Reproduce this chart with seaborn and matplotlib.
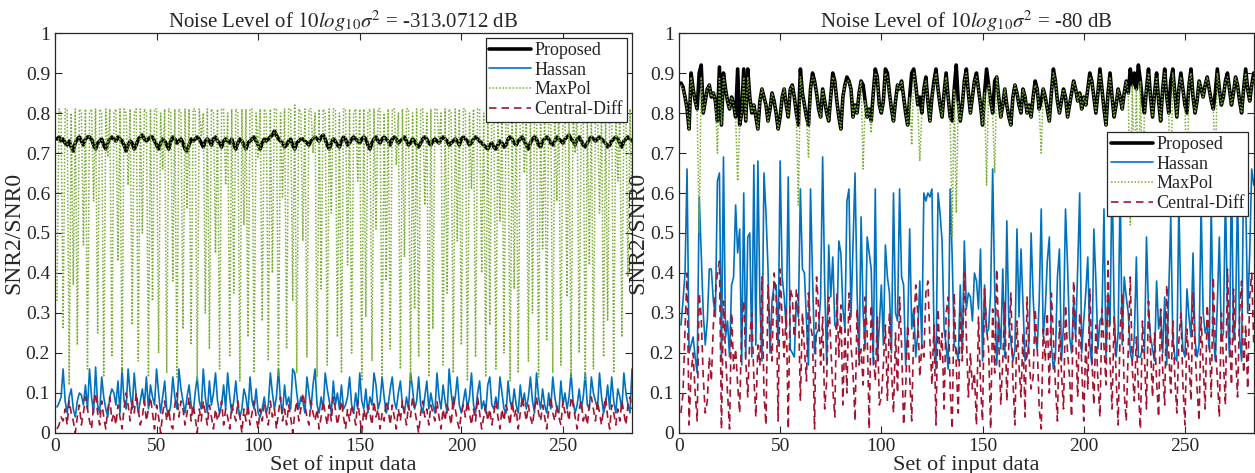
import matplotlib
matplotlib.use('Agg')
import matplotlib.pyplot as plt
import seaborn as sns
import numpy as np

# values (set index 1..284)
proposed_313 = [.735,.74,.73,.735,.725,.72,.73,.715,.705,.725,.735,.74,.73,.72,.735,.74,.74,.735,.72,.71,
    .725,.73,.735,.72,.71,.725,.735,.74,.735,.73,.74,.735,.73,.72,.705,.72,.73,.725,.71,.72,
    .735,.74,.745,.735,.73,.735,.74,.74,.73,.72,.71,.725,.735,.73,.72,.71,.73,.74,.735,.725,
    .73,.735,.725,.71,.705,.72,.735,.73,.735,.74,.735,.725,.715,.73,.735,.73,.72,.735,.74,.73,
    .725,.715,.73,.735,.73,.725,.735,.72,.71,.725,.735,.73,.72,.71,.725,.73,.735,.74,.73,.72,
    .71,.725,.735,.73,.735,.74,.745,.755,.745,.735,.73,.725,.715,.72,.73,.735,.72,.71,.725,.73,
    .735,.735,.73,.725,.72,.73,.735,.74,.735,.73,.74,.745,.735,.72,.71,.725,.735,.73,.72,.715,
    .73,.74,.735,.72,.725,.735,.74,.735,.73,.725,.735,.74,.735,.72,.71,.725,.735,.74,.73,.725,
    .735,.74,.735,.73,.72,.735,.74,.735,.725,.73,.735,.74,.73,.72,.725,.735,.73,.72,.715,.725,
    .735,.74,.735,.725,.72,.73,.735,.73,.725,.735,.74,.735,.73,.72,.725,.73,.735,.73,.72,.735,
    .74,.735,.73,.72,.725,.735,.74,.735,.73,.725,.72,.715,.71,.72,.725,.715,.71,.72,.73,.725,
    .715,.72,.735,.74,.735,.725,.72,.73,.735,.74,.73,.72,.71,.725,.735,.74,.735,.72,.715,.73,
    .735,.74,.735,.725,.72,.73,.74,.735,.73,.725,.735,.74,.745,.735,.73,.72,.735,.74,.73,.72,
    .715,.725,.735,.74,.735,.73,.735,.74,.735,.73,.725,.715,.72,.73,.735,.74,.735,.725,.715,.73,
    .735,.74,.735,.73]

hassan_313 = [.065,.075,.09,.16,.08,.05,.09,.11,.06,.04,.08,.10,.095,.07,.12,.06,.16,.09,.05,.165,
    .07,.05,.14,.09,.06,.04,.09,.11,.10,.07,.13,.05,.16,.08,.06,.16,.10,.06,.15,.09,
    .05,.08,.11,.07,.14,.06,.12,.09,.07,.16,.10,.05,.09,.13,.06,.045,.07,.14,.09,.06,
    .16,.11,.08,.05,.09,.12,.07,.05,.10,.14,.08,.06,.16,.09,.05,.13,.07,.10,.15,.08,
    .05,.07,.12,.06,.15,.09,.05,.08,.13,.07,.04,.06,.11,.09,.05,.14,.08,.06,.11,.05,
    .04,.06,.09,.05,.07,.15,.10,.06,.09,.16,.08,.05,.12,.07,.09,.06,.16,.15,.10,.06,
    .09,.08,.05,.14,.10,.06,.12,.16,.07,.05,.09,.06,.15,.11,.08,.05,.13,.07,.10,.06,
    .12,.06,.07,.09,.14,.07,.05,.10,.06,.15,.08,.06,.11,.05,.09,.07,.15,.12,.06,.08,
    .14,.09,.05,.07,.11,.14,.08,.06,.10,.13,.07,.05,.09,.06,.15,.11,.06,.08,.14,.07,
    .05,.09,.13,.06,.10,.07,.05,.15,.09,.06,.12,.08,.05,.16,.10,.06,.09,.14,.07,.05,
    .08,.11,.06,.09,.15,.07,.05,.10,.13,.06,.08,.05,.12,.14,.07,.06,.09,.06,.14,.10,
    .06,.05,.13,.08,.06,.11,.07,.05,.12,.07,.10,.06,.09,.14,.08,.05,.15,.09,.06,.11,
    .07,.05,.10,.06,.14,.09,.06,.05,.13,.07,.10,.06,.09,.15,.08,.05,.07,.11,.06,.09,
    .15,.07,.06,.14,.10,.08,.06,.15,.09,.05,.07,.12,.06,.14,.08,.05,.11,.09,.06,.15,
    .10,.07,.05,.16]

maxpol_313 = [.33,.81,.80,.26,.81,.81,.12,.80,.37,.81,.22,.81,.80,.47,.81,.16,.80,.81,.58,.81,
    .25,.81,.80,.14,.81,.69,.81,.19,.80,.81,.43,.81,.15,.81,.80,.62,.81,.27,.80,.81,
    .18,.81,.50,.81,.80,.14,.81,.33,.81,.81,.20,.80,.66,.81,.15,.81,.80,.38,.81,.14,
    .81,.80,.26,.81,.56,.81,.22,.81,.81,.13,.81,.74,.80,.30,.81,.21,.81,.80,.45,.81,
    .16,.81,.81,.62,.80,.19,.81,.35,.81,.80,.13,.81,.52,.81,.24,.81,.81,.15,.80,.69,
    .81,.28,.81,.80,.18,.81,.40,.81,.81,.14,.80,.59,.81,.21,.81,.81,.33,.82,.15,.81,
    .80,.48,.81,.19,.81,.81,.70,.80,.14,.81,.36,.81,.80,.17,.81,.55,.81,.81,.24,.80,
    .15,.81,.81,.42,.81,.20,.80,.81,.63,.81,.13,.81,.29,.80,.81,.18,.81,.51,.81,.81,
    .14,.80,.38,.81,.21,.81,.81,.67,.80,.16,.81,.44,.81,.81,.13,.80,.31,.81,.19,.81,
    .81,.57,.80,.14,.81,.26,.81,.81,.72,.80,.17,.81,.35,.81,.80,.15,.81,.48,.81,.22,
    .81,.81,.13,.80,.61,.81,.19,.81,.81,.40,.80,.14,.81,.27,.81,.81,.16,.80,.53,.81,
    .20,.81,.81,.13,.80,.36,.81,.15,.81,.81,.65,.80,.18,.81,.30,.81,.81,.14,.80,.46,
    .81,.23,.81,.81,.15,.80,.58,.81,.17,.81,.81,.34,.80,.14,.81,.70,.81,.20,.81,.81,
    .13,.80,.42,.81,.16,.81,.81,.55,.80,.19,.81,.28,.81,.81,.15,.80,.63,.81,.24,.81,
    .80,.39,.81,.55]

central_313 = [.01,.02,.04,.03,.06,.02,.08,.05,.03,.0,.04,.07,.02,.05,.09,.06,.03,.01,.07,.10,
    .05,.02,.08,.04,.01,.06,.09,.03,.05,.02,.07,.04,.01,.06,.10,.07,.03,.08,.05,.10,
    .06,.02,.04,.08,.03,.06,.09,.05,.01,.07,.04,.0,.05,.08,.03,.06,.02,.01,.07,.10,
    .04,.08,.06,.02,.05,.09,.03,.07,.04,.0,.06,.03,.08,.05,.02,.07,.04,.01,.06,.03,
    .05,.08,.02,.06,.04,.01,.07,.05,.03,.08,.04,.0,.06,.03,.07,.02,.05,.08,.04,.01,
    .06,.03,.07,.05,.02,.08,.04,.06,.01,.05,.09,.03,.06,.02,.07,.04,.0,.05,.08,.03,
    .06,.10,.07,.04,.02,.08,.05,.03,.06,.01,.04,.08,.05,.02,.07,.03,.09,.06,.02,.05,
    .08,.04,.01,.06,.03,.07,.05,.02,.08,.04,.0,.06,.03,.07,.05,.02,.08,.04,.06,.01,
    .05,.03,.08,.06,.02,.07,.04,.01,.06,.03,.08,.05,.02,.07,.04,.09,.06,.03,.0,.05,
    .08,.04,.06,.02,.07,.05,.03,.08,.04,.01,.06,.03,.07,.05,.02,.09,.06,.03,.01,.05,
    .07,.04,.08,.05,.02,.06,.03,.09,.05,.01,.04,.07,.03,.06,.02,.05,.08,.04,.01,.06,
    .03,.07,.05,.02,.08,.04,.06,.01,.05,.09,.06,.03,.07,.04,.02,.06,.09,.05,.03,.07,
    .04,.01,.06,.09,.05,.03,.07,.04,.02,.08,.05,.06,.03,.09,.07,.04,.01,.06,.08,.03,
    .05,.02,.07,.09,.06,.03,.08,.05,.02,.06,.09,.04,.01,.07,.05,.02,.06,.03,.08,.05,
    .02,.07,.09,.06]

proposed_80 = [.875,.865,.84,.81,.76,.90,.86,.83,.81,.90,.92,.80,.83,.86,.87,.84,.85,.83,.78,.915,
    .77,.90,.86,.83,.81,.84,.82,.79,.91,.77,.80,.91,.78,.91,.84,.80,.82,.79,.76,.83,
    .86,.84,.82,.78,.81,.85,.83,.80,.76,.79,.84,.86,.82,.79,.86,.87,.84,.80,.77,.91,
    .85,.82,.79,.77,.86,.90,.88,.85,.81,.79,.86,.83,.80,.78,.84,.90,.88,.83,.79,.76,
    .84,.87,.89,.88,.86,.79,.82,.80,.85,.88,.87,.83,.79,.81,.78,.85,.91,.89,.82,.80,
    .83,.91,.90,.85,.81,.78,.83,.87,.86,.88,.84,.80,.77,.84,.90,.91,.87,.82,.84,.80,
    .86,.89,.83,.78,.84,.88,.91,.86,.82,.79,.85,.90,.84,.79,.78,.86,.92,.83,.78,.82,
    .88,.91,.85,.80,.84,.88,.90,.86,.82,.77,.85,.91,.87,.83,.80,.88,.89,.84,.79,.82,
    .86,.82,.79,.77,.84,.87,.85,.82,.80,.86,.84,.80,.82,.79,.84,.88,.86,.81,.83,.86,
    .84,.81,.78,.85,.91,.88,.83,.80,.83,.86,.84,.79,.82,.85,.88,.86,.83,.85,.81,.84,
    .82,.86,.90,.88,.84,.80,.85,.91,.86,.81,.77,.85,.90,.84,.79,.82,.86,.84,.81,.85,
    .88,.85,.91,.87,.90,.86,.92,.88,.83,.80,.86,.91,.84,.79,.85,.90,.83,.78,.86,.91,
    .84,.80,.88,.91,.85,.79,.86,.90,.86,.82,.80,.87,.91,.84,.80,.83,.88,.86,.84,.87,
    .89,.86,.83,.81,.85,.91,.86,.82,.84,.88,.90,.86,.82,.85,.89,.87,.83,.80,.86,.91,
    .86,.83,.87,.90]

hassan_80 = [.27,.33,.40,.66,.20,.22,.24,.19,.15,.59,.45,.30,.22,.28,.41,.41,.33,.29,.63,.65,
    .18,.69,.24,.28,.19,.37,.39,.57,.45,.51,.17,.60,.19,.49,.50,.19,.67,.22,.68,.33,
    .18,.65,.55,.41,.20,.33,.37,.37,.22,.68,.39,.34,.26,.64,.21,.20,.19,.33,.29,.61,
    .41,.40,.28,.17,.61,.39,.20,.25,.26,.34,.69,.37,.17,.47,.34,.44,.27,.26,.48,.45,
    .31,.26,.58,.61,.29,.47,.65,.35,.18,.54,.30,.21,.49,.45,.41,.17,.61,.18,.27,.37,
    .22,.47,.39,.35,.20,.60,.30,.28,.61,.39,.37,.17,.25,.51,.26,.31,.19,.25,.38,.22,
    .60,.58,.60,.59,.61,.25,.16,.60,.55,.48,.26,.22,.16,.61,.44,.22,.21,.18,.37,.20,
    .48,.31,.35,.34,.28,.40,.38,.31,.46,.18,.37,.25,.26,.35,.66,.36,.17,.29,.21,.41,
    .19,.53,.27,.23,.18,.21,.51,.29,.46,.32,.18,.19,.23,.50,.34,.24,.21,.33,.56,.24,
    .31,.43,.49,.22,.16,.19,.39,.46,.18,.27,.56,.42,.24,.20,.33,.24,.41,.60,.20,.28,
    .35,.44,.22,.17,.51,.38,.21,.28,.29,.56,.19,.35,.27,.66,.31,.19,.25,.62,.22,.39,
    .34,.30,.20,.18,.24,.44,.19,.19,.21,.20,.49,.31,.24,.21,.18,.38,.26,.30,.20,.34,
    .17,.35,.54,.24,.19,.18,.58,.31,.21,.19,.36,.29,.24,.45,.23,.19,.22,.57,.30,.25,
    .27,.21,.57,.25,.18,.32,.49,.23,.25,.60,.31,.19,.67,.23,.28,.61,.24,.18,.67,.59,
    .30,.45,.66,.62]

maxpol_80 = [.87,.86,.84,.81,.76,.89,.86,.83,.81,.50,.89,.80,.83,.86,.87,.84,.85,.83,.70,.89,
    .77,.89,.86,.83,.81,.84,.82,.79,.63,.77,.80,.89,.78,.89,.84,.80,.82,.79,.76,.83,
    .86,.84,.82,.78,.81,.85,.83,.80,.76,.79,.84,.86,.82,.79,.86,.87,.84,.80,.57,.89,
    .85,.82,.79,.69,.86,.89,.88,.85,.81,.79,.86,.83,.80,.78,.84,.89,.88,.83,.79,.76,
    .84,.87,.88,.88,.86,.79,.82,.80,.85,.88,.66,.83,.79,.81,.75,.85,.90,.89,.82,.80,
    .83,.90,.89,.85,.81,.78,.83,.87,.86,.88,.84,.80,.77,.84,.72,.90,.87,.82,.68,.80,
    .86,.88,.83,.78,.84,.87,.90,.86,.82,.79,.85,.89,.84,.79,.49,.86,.55,.83,.78,.82,
    .88,.90,.85,.80,.84,.88,.89,.86,.82,.77,.85,.62,.87,.83,.80,.65,.89,.84,.79,.82,
    .86,.82,.79,.77,.84,.87,.85,.82,.80,.86,.84,.80,.82,.79,.84,.87,.86,.81,.70,.86,
    .84,.81,.78,.85,.90,.88,.83,.80,.83,.86,.84,.79,.82,.85,.88,.86,.83,.85,.81,.84,
    .82,.86,.89,.88,.84,.80,.85,.90,.86,.81,.77,.85,.89,.84,.79,.82,.86,.84,.81,.85,
    .88,.85,.52,.87,.62,.86,.55,.88,.60,.80,.86,.90,.84,.79,.85,.89,.83,.78,.86,.90,
    .84,.80,.58,.90,.85,.79,.86,.89,.86,.82,.60,.87,.90,.84,.80,.83,.88,.86,.84,.87,
    .89,.86,.83,.81,.65,.90,.86,.82,.84,.88,.89,.86,.82,.85,.89,.87,.83,.80,.86,.90,
    .86,.83,.87,.89]

central_80 = [.05,.10,.26,.40,.02,.15,.20,.10,.03,.35,.29,.14,.05,.08,.19,.13,.27,.35,.40,.43,
    .01,.33,.20,.10,.01,.30,.16,.21,.12,.05,.27,.33,.18,.09,.24,.30,.14,.04,.22,.17,
    .39,.10,.02,.37,.25,.18,.40,.35,.03,.41,.28,.19,.31,.01,.36,.34,.24,.36,.33,.08,
    .30,.21,.13,.35,.27,.24,.01,.39,.31,.17,.29,.06,.13,.34,.22,.11,.04,.35,.19,.32,
    .07,.26,.10,.35,.22,.15,.03,.31,.17,.21,.12,.34,.25,.01,.32,.20,.13,.29,.07,.09,
    .17,.27,.08,.30,.16,.05,.25,.10,.34,.22,.02,.11,.27,.14,.03,.26,.37,.30,.14,.22,
    .19,.35,.38,.23,.12,.27,.02,.31,.18,.25,.06,.30,.34,.11,.01,.35,.17,.05,.30,.18,
    .40,.24,.09,.20,.11,.15,.02,.29,.12,.03,.36,.26,.21,.01,.31,.15,.41,.23,.07,.18,
    .33,.08,.22,.35,.13,.02,.28,.17,.09,.25,.04,.34,.19,.11,.14,.31,.22,.06,.01,.26,
    .18,.30,.10,.35,.24,.12,.03,.28,.15,.06,.32,.20,.14,.04,.38,.25,.09,.30,.17,.03,
    .23,.11,.36,.19,.07,.27,.13,.04,.31,.22,.12,.43,.18,.06,.29,.14,.02,.26,.35,.10,
    .03,.21,.39,.16,.08,.24,.11,.01,.28,.19,.06,.33,.21,.09,.25,.13,.04,.31,.16,.07,
    .37,.20,.10,.28,.14,.05,.23,.30,.12,.02,.26,.18,.08,.35,.21,.11,.03,.29,.17,.06,
    .32,.24,.09,.39,.22,.14,.04,.30,.18,.07,.41,.26,.12,.36,.20,.09,.30,.38,.15,.27,
    .11,.34,.40,.22]

titles = [r'Noise Level of $10log_{10}\sigma^2$ = -313.0712 dB',
          r'Noise Level of $10log_{10}\sigma^2$ = -80 dB']
labels = ['Proposed', 'Hassan', 'MaxPol', 'Central-Diff']

sns.set_style('ticks')
plt.rcParams['font.family'] = ['Liberation Serif', 'DejaVu Serif']
plt.rcParams['mathtext.fontset'] = 'stix'

fig = plt.figure(figsize=(12.55, 4.73), dpi=100)
ax1 = fig.add_axes([0.0438, 0.0846, 0.4598, 0.8456])
ax2 = fig.add_axes([0.541, 0.0846, 0.458, 0.8456])

panels = [(ax1, [proposed_313, hassan_313, maxpol_313, central_313], titles[0]),
          (ax2, [proposed_80, hassan_80, maxpol_80, central_80], titles[1])]
styles = [dict(color='black', lw=2.6, linestyle='-'),
          dict(color='#0072BD', lw=1.2, linestyle='-'),
          dict(color='#77AC30', lw=1.1, linestyle=(0, (1, 1.2))),
          dict(color='#A2142F', lw=1.2, linestyle=(0, (4.5, 3)))]

for ax, series, title in panels:
    n = len(series[0])
    idx = np.arange(1, n + 1)
    for k in range(4):
        sns.lineplot(x=idx, y=series[k], ax=ax, label=labels[k], **styles[k])
    ax.set_xlim(0, n)
    ax.set_ylim(0, 1)
    ax.set_xticks([0, 50, 100, 150, 200, 250])
    ax.set_yticks(np.arange(0, 1.01, 0.1))
    ax.set_yticklabels(['0', '0.1', '0.2', '0.3', '0.4', '0.5', '0.6', '0.7', '0.8', '0.9', '1'])
    ax.tick_params(direction='in', top=True, right=True, labelsize=14, length=5, colors='#262626')
    for s in ax.spines.values():
        s.set_color('#262626')
        s.set_linewidth(0.9)
    ax.set_title(title, fontsize=15, pad=4)
    ax.set_xlabel('Set of input data', fontsize=16, labelpad=0)
    ax.set_ylabel('SNR2/SNR0', fontsize=17, labelpad=1)
    anchor = (1.0, 1.0) if ax is ax1 else (1.0, 0.765)
    leg = ax.legend(loc='upper right', bbox_to_anchor=anchor, fontsize=13,
                    handlelength=2.3, handletextpad=0.2, labelspacing=0.15,
                    borderpad=0.2, borderaxespad=0.3, fancybox=False, framealpha=1)
    leg.get_frame().set_edgecolor('#262626')
    leg.get_frame().set_linewidth(0.9)

fig.savefig('out.png', dpi=100)
